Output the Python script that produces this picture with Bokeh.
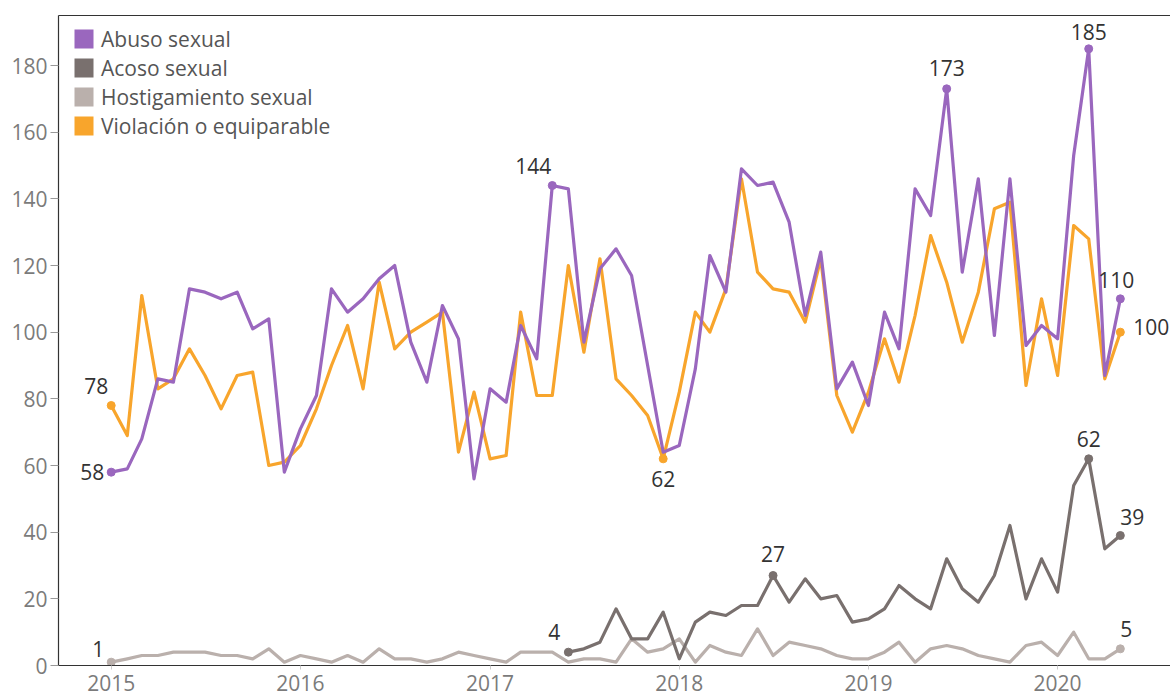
import pandas as pd
from bokeh.plotting import figure
from bokeh.models import (Range1d, FixedTicker, DatetimeTickFormatter, Legend, LegendItem,
                          ColumnDataSource, DatetimeAxis)
from bokeh.core.properties import value
from bokeh.embed import file_html
from bokeh.resources import INLINE

# ---------------- data ----------------
months = list(pd.date_range("2015-01-01", "2020-05-01", freq="MS"))

abuso_sexual = [58, 59, 68, 86, 85, 113, 112, 110, 112, 101, 104, 58,
                71, 81, 113, 106, 110, 116, 120, 97, 85, 108, 98, 56,
                83, 79, 102, 92, 144, 143, 97, 119, 125, 117, 90, 64,
                66, 89, 123, 112, 149, 144, 145, 133, 105, 124, 83, 91,
                78, 106, 95, 143, 135, 173, 118, 146, 99, 146, 96, 102,
                98, 153, 185, 87, 110]

violacion = [78, 69, 111, 83, 86, 95, 87, 77, 87, 88, 60, 61,
             66, 77, 90, 102, 83, 115, 95, 100, 103, 106, 64, 82,
             62, 63, 106, 81, 81, 120, 94, 122, 86, 81, 75, 62,
             82, 106, 100, 113, 146, 118, 113, 112, 103, 122, 81, 70,
             82, 98, 85, 105, 129, 115, 97, 112, 137, 139, 84, 110,
             87, 132, 128, 86, 100]

acoso_start = "2017-06-01"
acoso_sexual = [4, 5, 7, 17, 8, 8, 16,
                2, 13, 16, 15, 18, 18, 27, 19, 26, 20, 21, 13,
                14, 17, 24, 20, 17, 32, 23, 19, 27, 42, 20, 32,
                22, 54, 62, 35, 39]

hostigamiento = [1, 2, 3, 3, 4, 4, 4, 3, 3, 2, 5, 1,
                 3, 2, 1, 3, 1, 5, 2, 2, 1, 2, 4, 3,
                 2, 1, 4, 4, 4, 1, 2, 2, 1, 8, 4, 5,
                 8, 1, 6, 4, 3, 11, 3, 7, 6, 5, 3, 2,
                 2, 4, 7, 1, 5, 6, 5, 3, 2, 1, 6, 7,
                 3, 10, 2, 2, 5]

series_names = ["Abuso sexual", "Acoso sexual", "Hostigamiento sexual", "Violación o equiparable"]
y_ticks = [0, 20, 40, 60, 80, 100, 120, 140, 160, 180]
year_ticks = ["2015", "2016", "2017", "2018", "2019", "2020"]

acoso_months = [m for m in months if m >= pd.Timestamp(acoso_start)]

# ---------------- style ----------------
FONT = "Open Sans"
FS = "21px"
C_ABUSO = "#9A67BE"
C_ACOSO = "#79706E"
C_HOST = "#BAB0AC"
C_VIOL = "#F8A52C"
LW = 3.2
TICK_COLOR = "#7b7b7b"

x_start = pd.Timestamp("2015-01-01") - pd.Timedelta(days=101.7)
x_end = pd.Timestamp("2015-01-01") + pd.Timedelta(days=2043.8)

p = figure(width=1170, height=698, x_axis_type="datetime",
           x_range=Range1d(x_start, x_end), y_range=Range1d(0, 195),
           output_backend="svg", toolbar_location=None,
           min_border_left=58, min_border_right=0, min_border_top=15, min_border_bottom=33)
p.background_fill_color = "white"
p.border_fill_color = "white"
p.outline_line_color = None
p.xgrid.visible = False
p.ygrid.visible = False

# bottom x axis
xb = p.below[0]
year_ms = [pd.Timestamp(y + "-01-01").value // 10**6 for y in year_ticks]
xb.ticker = FixedTicker(ticks=year_ms)
xb.formatter = DatetimeTickFormatter(days="%Y", months="%Y", years="%Y")
xb.axis_line_color = "#333333"
xb.axis_line_width = 1.2
xb.major_tick_out = 4
xb.major_tick_in = 0
xb.major_tick_line_color = "#cccccc"
xb.minor_tick_line_color = None
xb.major_label_standoff = 5
xb.major_label_text_font = FONT
xb.major_label_text_font_size = FS
xb.major_label_text_color = TICK_COLOR

# y axis
ya = p.left[0]
ya.ticker = FixedTicker(ticks=y_ticks)
ya.axis_line_color = "#333333"
ya.axis_line_width = 1.2
ya.major_tick_out = 8
ya.major_tick_in = 0
ya.minor_tick_line_color = None
ya.major_tick_line_color = "#999999"
ya.major_label_standoff = 3
ya.major_label_text_font = FONT
ya.major_label_text_font_size = FS
ya.major_label_text_color = TICK_COLOR

# top border as an empty axis
top_axis = DatetimeAxis(ticker=FixedTicker(ticks=[]), major_tick_in=0, major_tick_out=0,
                        minor_tick_in=0, minor_tick_out=0, axis_line_color="#333333",
                        axis_line_width=1.2, major_label_standoff=0,
                        major_label_text_font_size="1px")
p.add_layout(top_axis, "above")

# lines
p.line(months, hostigamiento, color=C_HOST, line_width=LW, line_join="round")
p.line(months, violacion, color=C_VIOL, line_width=LW, line_join="round")
p.line(acoso_months, acoso_sexual, color=C_ACOSO, line_width=LW, line_join="round")
p.line(months, abuso_sexual, color=C_ABUSO, line_width=LW, line_join="round")

# marked points with labels: (index, dx, dy)
def marks(dates, vals, specs, color):
    xs, ys, ts, dxs, dys = [], [], [], [], []
    for i, dx, dy in specs:
        xs.append(dates[i]); ys.append(vals[i]); ts.append(str(vals[i]))
        dxs.append(dx); dys.append(dy)
    src = ColumnDataSource(dict(x=xs, y=ys, t=ts, dx=dxs, dy=dys))
    p.scatter("x", "y", source=src, size=8, color=color)
    p.text("x", "y", text="t", x_offset="dx", y_offset="dy", source=src,
           text_font=value(FONT), text_font_size=FS, text_color="#333333",
           text_align="center", text_baseline="middle")

last = len(months) - 1
marks(months, hostigamiento, [(0, -13, -13), (last, 6, -20)], C_HOST)
marks(months, violacion, [(0, -15, -20), (35, 0, 20), (last, 31, -5)], C_VIOL)
marks(acoso_months, acoso_sexual,
      [(0, -14, -20), (13, 0, -22), (33, 0, -20), (len(acoso_months) - 1, 12, -19)], C_ACOSO)
marks(months, abuso_sexual, [(0, -19, 0), (28, -19, -20), (53, 0, -21), (62, 0, -17), (last, -4, -19)], C_ABUSO)

# legend with square swatches (thick dashed line sample = square); NaN data keeps the plot empty
items = []
for name, col in zip(series_names, [C_ABUSO, C_ACOSO, C_HOST, C_VIOL]):
    r = p.line(x=[months[0]], y=[float("nan")], line_color=col, line_width=19, line_cap="butt",
               line_dash="0 7 19 100")
    items.append(LegendItem(label=name, renderers=[r]))
legend = Legend(items=items, location="top_left", margin=9, padding=0,
                glyph_width=27, glyph_height=29, spacing=0, label_standoff=7,
                label_height=29,
                label_text_font=FONT, label_text_font_size=FS, label_text_color="#555555",
                background_fill_alpha=0, border_line_color=None)
p.add_layout(legend)

open("out.html", "w").write(file_html(p, INLINE))
